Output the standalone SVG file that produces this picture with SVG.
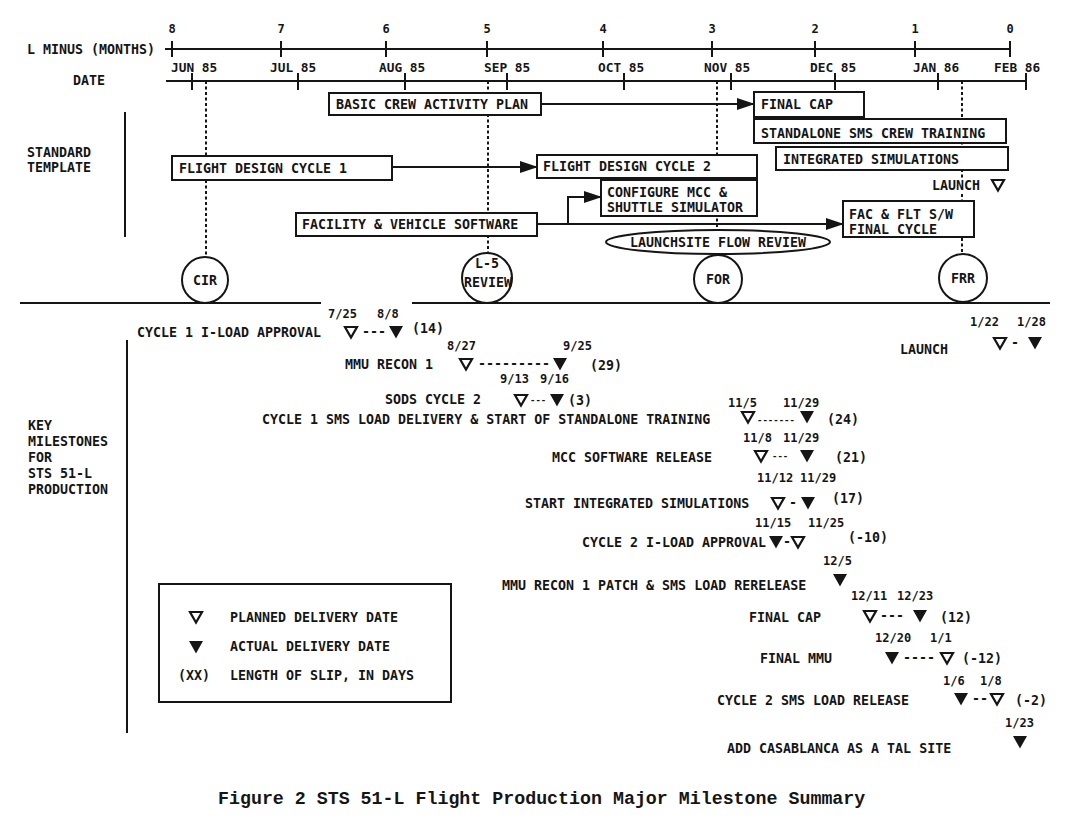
<svg xmlns="http://www.w3.org/2000/svg" width="1074" height="831" viewBox="0 0 1074 831">
<defs>
<style>
text { font-family: "DejaVu Sans Mono", "Liberation Mono", monospace; font-weight: bold; font-size: 13.3px; fill: #151515; }
.ax { stroke: #151515; stroke-width: 2; fill: none; }
.box { fill: #fff; stroke: #151515; stroke-width: 2; }
.dsh { stroke: #151515; stroke-width: 2; stroke-dasharray: 3 2.5; fill: none; }
.conn { stroke: #151515; stroke-width: 2; fill: none; }
.num { font-size: 12px; text-anchor: middle; }
.dt { font-size: 12.8px; }
.d { font-size: 12px; }
.mid { text-anchor: middle; }
.cap { font-family: "Liberation Mono", "DejaVu Sans Mono", monospace; font-size: 18.3px; }
.sd { font-size: 9px; }
</style>
<marker id="arr" markerWidth="18" markerHeight="12" refX="17" refY="6" orient="auto" markerUnits="userSpaceOnUse">
<path d="M0,0 L18,6 L0,12 Z" fill="#151515"/>
</marker>
<path id="pt" d="M-6,-5 L6,-5 L0,5.5 Z" fill="#fff" stroke="#151515" stroke-width="2.2"/>
<path id="at" d="M-7,-6 L7,-6 L0,6.5 Z" fill="#151515"/>
</defs>
<rect width="1074" height="831" fill="#fff"/>

<g id="axes">
<text x="27" y="54">L MINUS (MONTHS)</text>
<text x="73" y="85">DATE</text>
<line class="ax" x1="165" y1="49" x2="1010" y2="49"/>
<path class="ax" d="M172,41V57 M281,41V57 M386,41V57 M487,41V57 M603,41V57 M712,41V57 M815,41V57 M915,41V57 M1010,41V57"/>
<text class="num" x="172" y="33">8</text>
<text class="num" x="281" y="33">7</text>
<text class="num" x="386" y="33">6</text>
<text class="num" x="487" y="33">5</text>
<text class="num" x="603" y="33">4</text>
<text class="num" x="712" y="33">3</text>
<text class="num" x="815" y="33">2</text>
<text class="num" x="915" y="33">1</text>
<text class="num" x="1010" y="33">0</text>
<line class="ax" x1="166" y1="81" x2="1026" y2="81"/>
<path class="ax" d="M192,73V90 M298,73V90 M405,73V90 M507,73V90 M624,73V90 M731,73V90 M835,73V90 M938,73V90 M1026,73V90"/>
<text class="dt" x="171" y="72">JUN 85</text>
<text class="dt" x="270" y="72">JUL 85</text>
<text class="dt" x="379" y="72">AUG 85</text>
<text class="dt" x="484" y="72">SEP 85</text>
<text class="dt" x="598" y="72">OCT 85</text>
<text class="dt" x="704" y="72">NOV 85</text>
<text class="dt" x="810" y="72">DEC 85</text>
<text class="dt" x="913" y="72">JAN 86</text>
<text class="dt" x="994" y="72">FEB 86</text>
</g>

<g id="sections">
<text x="27" y="157">STANDARD</text>
<text x="27" y="172">TEMPLATE</text>
<line class="ax" x1="125" y1="112" x2="125" y2="237"/>
<path class="ax" d="M20,303H321 M412,303H1050"/>
<line class="ax" x1="127" y1="340" x2="127" y2="733"/>
<text x="28" y="430">KEY</text>
<text x="28" y="446">MILESTONES</text>
<text x="28" y="462">FOR</text>
<text x="28" y="478">STS 51-L</text>
<text x="28" y="494">PRODUCTION</text>
</g>

<g id="connectors">
<path class="dsh" d="M206,81V257"/>
<path class="dsh" d="M488,81V253"/>
<path class="dsh" d="M717,81V255"/>
<path class="dsh" d="M962,81V180 M962,194V254"/>
<path class="conn" d="M541,104H754" marker-end="url(#arr)"/>
<path class="conn" d="M392,167H537" marker-end="url(#arr)"/>
<path class="conn" d="M537,224H843" marker-end="url(#arr)"/>
<path class="conn" d="M568,224V197H601" marker-end="url(#arr)"/>
</g>

<g id="n-basic-cap"><rect class="box" x="329" y="93" width="212" height="22"/><text x="336" y="109">BASIC CREW ACTIVITY PLAN</text></g>
<g id="n-final-cap"><rect class="box" x="754" y="92" width="110" height="25"/><text x="761" y="109">FINAL CAP</text></g>
<g id="n-standalone"><rect class="box" x="754" y="119" width="252" height="24"/><text x="761" y="138">STANDALONE SMS CREW TRAINING</text></g>
<g id="n-integrated"><rect class="box" x="776" y="147" width="232" height="23"/><text x="783" y="164">INTEGRATED SIMULATIONS</text></g>
<g id="n-launch-top"><text x="932" y="190">LAUNCH</text><use href="#pt" x="998" y="185"/></g>
<g id="n-fdc1"><rect class="box" x="172" y="156" width="220" height="24"/><text x="179" y="173">FLIGHT DESIGN CYCLE 1</text></g>
<g id="n-fdc2"><rect class="box" x="537" y="155" width="220" height="23"/><text x="543" y="171">FLIGHT DESIGN CYCLE 2</text></g>
<g id="n-configure"><rect class="box" x="601" y="180" width="156" height="36"/><text x="607" y="197">CONFIGURE MCC &amp;</text><text x="607" y="212">SHUTTLE SIMULATOR</text></g>
<g id="n-facility"><rect class="box" x="296" y="213" width="241" height="23"/><text x="302" y="229">FACILITY &amp; VEHICLE SOFTWARE</text></g>
<g id="n-fac-final"><rect class="box" x="843" y="201" width="131" height="36"/><text x="849" y="219">FAC &amp; FLT S/W</text><text x="849" y="234">FINAL CYCLE</text></g>
<g id="n-launchsite"><ellipse class="box" cx="718" cy="242" rx="112" ry="12"/><text class="mid" x="718" y="247">LAUNCHSITE FLOW REVIEW</text></g>
<g id="n-cir"><circle class="box" cx="205" cy="280" r="23"/><text class="mid" x="205" y="285">CIR</text></g>
<g id="n-l5"><circle class="box" cx="487" cy="278" r="25"/><text class="mid" x="487" y="268">L-5</text><text class="mid" x="488" y="287">REVIEW</text></g>
<g id="n-for"><circle class="box" cx="718" cy="279" r="24"/><text class="mid" x="718" y="284">FOR</text></g>
<g id="n-frr"><circle class="box" cx="963" cy="278" r="24"/><text class="mid" x="963" y="283">FRR</text></g>

<g id="m-cycle1-iload">
<text class="d" x="328" y="318">7/25</text><text class="d" x="377" y="318">8/8</text>
<text x="137" y="337">CYCLE 1 I-LOAD APPROVAL</text>
<use href="#pt" x="351" y="332"/><text x="362" y="336">---</text><use href="#at" x="396" y="332"/><text x="412" y="333">(14)</text>
</g>
<g id="m-mmu-recon1">
<text class="d" x="447" y="350">8/27</text><text class="d" x="563" y="350">9/25</text>
<text x="345" y="369">MMU RECON 1</text>
<use href="#pt" x="466" y="364"/><text x="478" y="368">---------</text><use href="#at" x="560" y="364"/><text x="590" y="370">(29)</text>
</g>
<g id="m-launch">
<text class="d" x="970" y="326">1/22</text><text class="d" x="1017" y="326">1/28</text>
<text x="900" y="354">LAUNCH</text>
<use href="#pt" x="1000" y="343"/><text x="1011" y="347">-</text><use href="#at" x="1035" y="343"/>
</g>
<g id="m-sods">
<text class="d" x="500" y="383">9/13</text><text class="d" x="540" y="383">9/16</text>
<text x="385" y="404">SODS CYCLE 2</text>
<use href="#pt" x="521" y="400"/><text class="sd" x="530" y="403">---</text><use href="#at" x="557" y="400"/><text x="568" y="405">(3)</text>
</g>
<g id="m-cycle1-sms">
<text class="d" x="728" y="407">11/5</text><text class="d" x="783" y="407">11/29</text>
<text x="262" y="424">CYCLE 1 SMS LOAD DELIVERY &amp; START OF STANDALONE TRAINING</text>
<use href="#pt" x="748" y="417"/><text class="sd" x="757" y="423">-------</text><use href="#at" x="807" y="417"/><text x="827" y="424">(24)</text>
</g>
<g id="m-mcc">
<text class="d" x="743" y="442">11/8</text><text class="d" x="783" y="442">11/29</text>
<text x="552" y="462">MCC SOFTWARE RELEASE</text>
<use href="#pt" x="761" y="456"/><text class="sd" x="772" y="459">---</text><use href="#at" x="807" y="456"/><text x="835" y="462">(21)</text>
</g>
<g id="m-start-int">
<text class="d" x="757" y="482">11/12</text><text class="d" x="800" y="482">11/29</text>
<text x="525" y="508">START INTEGRATED SIMULATIONS</text>
<use href="#pt" x="778" y="503"/><text x="789" y="507">-</text><use href="#at" x="808" y="503"/><text x="832" y="503">(17)</text>
</g>
<g id="m-cycle2-iload">
<text class="d" x="755" y="527">11/15</text><text class="d" x="808" y="527">11/25</text>
<text x="582" y="547">CYCLE 2 I-LOAD APPROVAL</text>
<use href="#at" x="776" y="542"/><text x="783" y="546">-</text><use href="#pt" x="798" y="542"/><text x="848" y="542">(-10)</text>
</g>
<g id="m-mmu-patch">
<text class="d" x="823" y="565">12/5</text>
<text x="502" y="590">MMU RECON 1 PATCH &amp; SMS LOAD RERELEASE</text>
<use href="#at" x="840" y="580"/>
</g>
<g id="m-final-cap">
<text class="d" x="851" y="600">12/11</text><text class="d" x="897" y="600">12/23</text>
<text x="749" y="622">FINAL CAP</text>
<use href="#pt" x="870" y="616"/><text x="880" y="620">---</text><use href="#at" x="920" y="616"/><text x="940" y="622">(12)</text>
</g>
<g id="m-final-mmu">
<text class="d" x="875" y="642">12/20</text><text class="d" x="930" y="642">1/1</text>
<text x="760" y="663">FINAL MMU</text>
<use href="#at" x="892" y="658"/><text x="903" y="662">----</text><use href="#pt" x="947" y="658"/><text x="962" y="663">(-12)</text>
</g>
<g id="m-cycle2-sms">
<text class="d" x="943" y="685">1/6</text><text class="d" x="980" y="685">1/8</text>
<text x="717" y="705">CYCLE 2 SMS LOAD RELEASE</text>
<use href="#at" x="961" y="699"/><text x="972" y="703">--</text><use href="#pt" x="997" y="699"/><text x="1015" y="705">(-2)</text>
</g>
<g id="m-casablanca">
<text class="d" x="1005" y="727">1/23</text>
<text x="727" y="753">ADD CASABLANCA AS A TAL SITE</text>
<use href="#at" x="1020" y="742"/>
</g>

<g id="legend">
<rect class="box" x="159" y="584" width="292" height="118"/>
<use href="#pt" x="196" y="617"/><text x="230" y="622">PLANNED DELIVERY DATE</text>
<use href="#at" x="196" y="647"/><text x="230" y="651">ACTUAL DELIVERY DATE</text>
<text x="178" y="680">(XX)</text><text x="230" y="680">LENGTH OF SLIP, IN DAYS</text>
</g>

<g id="caption">
<text class="cap" x="218" y="804">Figure 2 STS 51-L Flight Production Major Milestone Summary</text>
</g>
</svg>
